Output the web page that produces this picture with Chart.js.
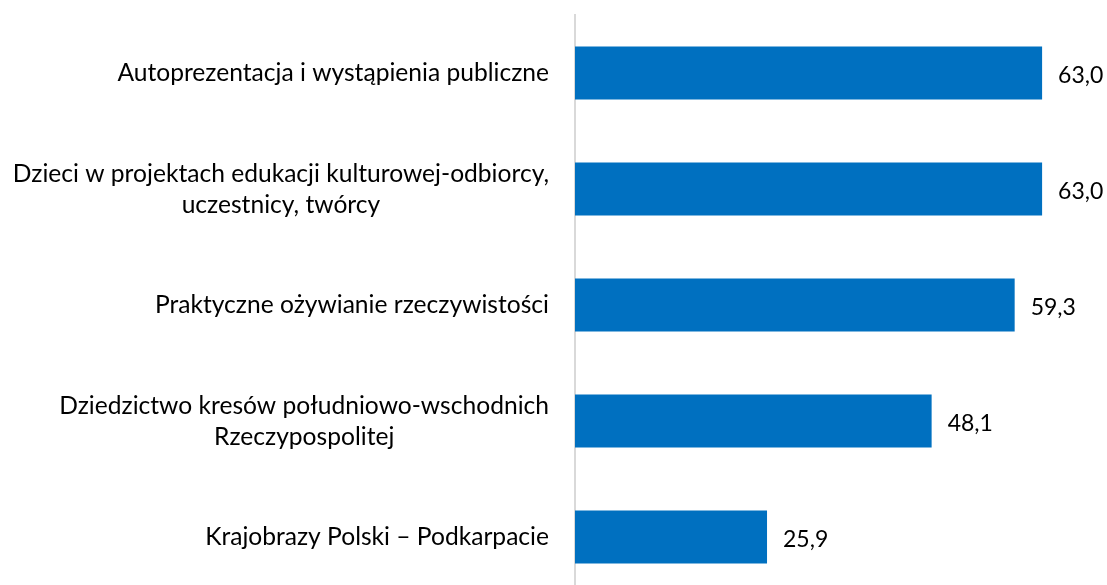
<!DOCTYPE html>
<html>
<head>
<meta charset="utf-8">
<script src="https://cdn.jsdelivr.net/npm/chart.js@4.4.1/dist/chart.umd.min.js"></script>
<style>
html,body{margin:0;padding:0;background:#fff;overflow:hidden;}
#wrap{width:1107px;height:595px;}
</style>
</head>
<body>
<div id="wrap"><canvas id="c" width="1107" height="595"></canvas></div>
<script>
const categories = [
  ["Autoprezentacja i wystąpienia publiczne"],
  ["Dzieci w projektach edukacji kulturowej-odbiorcy,", "uczestnicy, twórcy"],
  ["Praktyczne ożywianie rzeczywistości"],
  ["Dziedzictwo kresów południowo-wschodnich", "Rzeczypospolitej"],
  ["Krajobrazy Polski – Podkarpacie"]
];
const values = [63.0, 63.0, 59.3, 48.1, 25.9];

const LABEL_FONT = '24.6px Lato';
const VALUE_FONT = '23px Lato';
const AXIS_X = 575;

const customLabels = {
  id: 'customLabels',
  afterDatasetsDraw(chart) {
    const ctx = chart.ctx;
    const yScale = chart.scales.y;
    const meta = chart.getDatasetMeta(0);
    ctx.save();
    ctx.fillStyle = '#000';
    ctx.textBaseline = 'alphabetic';
    ctx.font = LABEL_FONT;
    const lh = 31;
    categories.forEach((lines, i) => {
      const yc = yScale.getPixelForTick(i);
      const w = Math.max(...lines.map(l => ctx.measureText(l).width));
      const cx = AXIS_X - 26 - w / 2;
      ctx.textAlign = 'center';
      lines.forEach((l, j) => {
        const y = yc + 8 + (j - (lines.length - 1) / 2) * lh;
        ctx.fillText(l, cx, y);
      });
    });
    ctx.font = VALUE_FONT;
    ctx.textAlign = 'left';
    meta.data.forEach((bar, i) => {
      const txt = values[i].toFixed(1).replace('.', ',');
      ctx.fillText(txt, bar.x + 16, bar.y + 9.5);
    });
    ctx.restore();
  }
};

new Chart(document.getElementById('c'), {
  type: 'bar',
  data: {
    labels: categories,
    datasets: [{
      data: values,
      backgroundColor: '#0070C0',
      borderWidth: 0,
      barPercentage: 0.457,
      categoryPercentage: 1.0
    }]
  },
  options: {
    indexAxis: 'y',
    responsive: false,
    animation: false,
    layout: { padding: { top: 15, right: 13, bottom: 0, left: 0 } },
    plugins: { legend: { display: false }, tooltip: { enabled: false } },
    scales: {
      x: { display: false, min: 0, max: 70 },
      y: {
        grid: { display: false, drawTicks: false },
        border: { display: true, color: '#d9d9d9', width: 2 },
        ticks: { display: false },
        afterFit(scale) { scale.width = AXIS_X; }
      }
    }
  },
  plugins: [customLabels]
});
</script>
</body>
</html>
